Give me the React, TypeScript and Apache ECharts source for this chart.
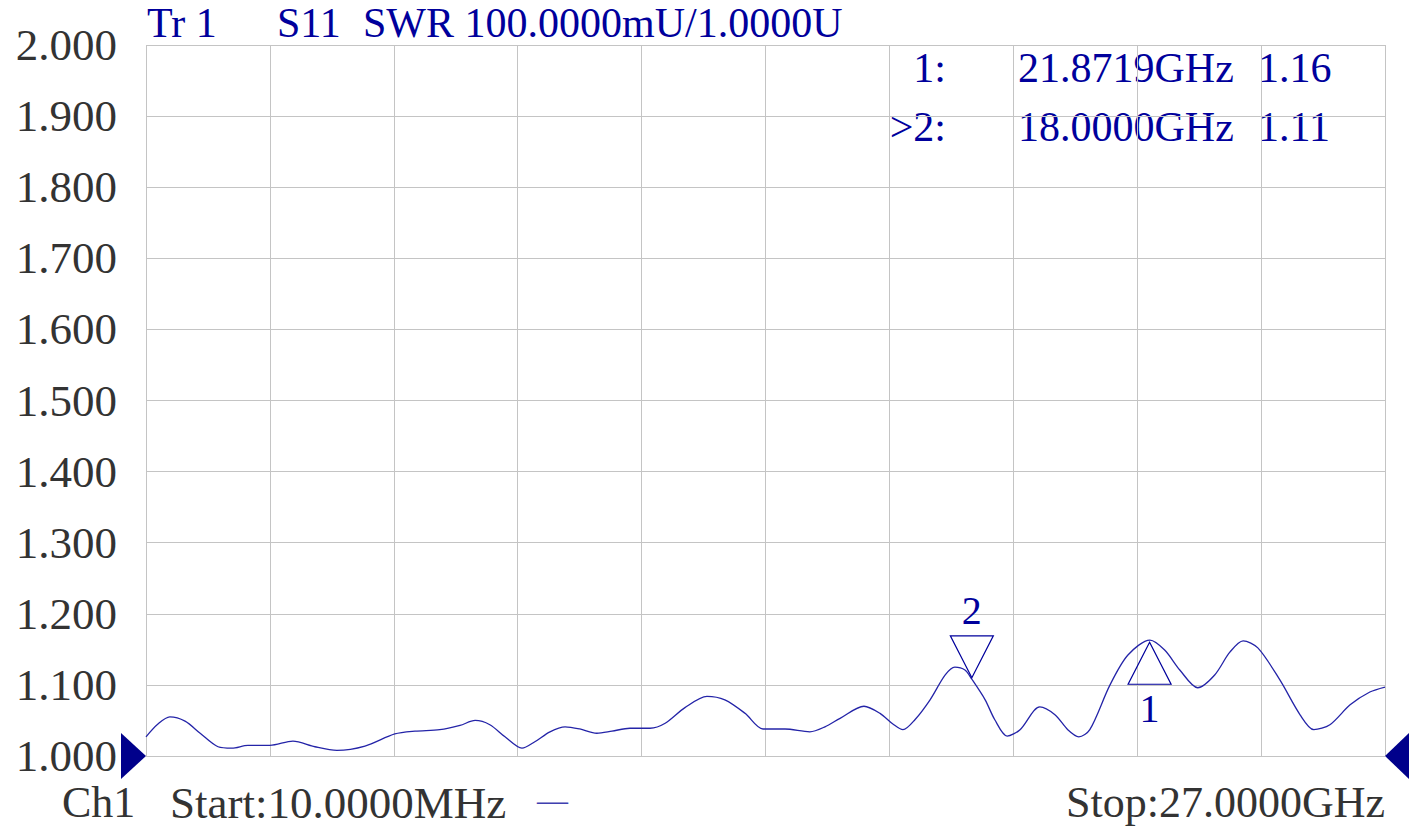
import React, { useEffect, useRef } from "react";
import * as echarts from "echarts";

// Trace S11 SWR (frequency in GHz, SWR value)
const freqGHz = [
  0.01, 0.27, 0.53, 0.86, 1.19, 1.58, 1.88, 2.23, 2.71, 3.21, 3.69, 4.17, 4.78, 5.43, 5.87, 6.41, 6.85,
  7.18, 7.5, 7.83, 8.2, 8.48, 8.81, 9.14, 9.46, 9.83, 10.16, 10.55, 10.99, 11.32, 11.75, 12.23, 12.62,
  13.06, 13.45, 13.93, 14.47, 14.8, 15.13, 15.65, 16.0, 16.28, 16.5, 16.76, 17.09, 17.42, 17.63, 17.85,
  18.0, 18.29, 18.5, 18.77, 19.05, 19.48, 19.81, 20.09, 20.33, 20.57, 21.01, 21.4, 21.88, 22.2, 22.53,
  22.92, 23.29, 23.62, 23.91, 24.23, 24.71, 25.15, 25.45, 25.8, 26.24, 26.67, 27.0,
];
const swr = [
  1.027, 1.045, 1.055, 1.049, 1.032, 1.013, 1.011, 1.015, 1.015, 1.021, 1.013, 1.008, 1.014, 1.031, 1.035,
  1.037, 1.043, 1.05, 1.044, 1.027, 1.011, 1.02, 1.034, 1.041, 1.038, 1.032, 1.035, 1.039, 1.039, 1.046,
  1.068, 1.084, 1.079, 1.06, 1.038, 1.038, 1.034, 1.041, 1.053, 1.07, 1.06, 1.045, 1.037, 1.051, 1.079,
  1.114, 1.125, 1.121, 1.108, 1.079, 1.051, 1.028, 1.037, 1.069, 1.058, 1.037, 1.027, 1.037, 1.1, 1.142,
  1.163, 1.149, 1.121, 1.096, 1.114, 1.146, 1.162, 1.152, 1.107, 1.058, 1.037, 1.044, 1.072, 1.09, 1.097,
];

const startGHz = 0.01;
const stopGHz = 27.0;
const yMin = 1.0;
const yMax = 2.0;
const yStep = 0.1;
const xDivisions = 10;

const titleParts = ["Tr 1", "S11", "SWR 100.0000mU/1.0000U"];
const markerNames = ["1", "2"];
const markerFreq = [21.8719, 18.0];
const markerSwr = [1.16, 1.11];
const activeMarker = 1;
const channelLabel = "Ch1";
const startLabel = "Start:10.0000MHz";
const stopLabel = "Stop:27.0000GHz";

const BLUE = "#00009c";
const TRACE = "#2424a8";
const GRAY_TEXT = "#333333";
const GRID = "#c4c4c4";
const FONT = "'Liberation Serif', 'DejaVu Serif', serif";

export default function App() {
  const ref = useRef<HTMLDivElement>(null);
  useEffect(() => {
    const chart = echarts.init(ref.current!, null, { renderer: "svg" });
    const data = freqGHz.map((f, i) => [f, swr[i]]);

    const titleX = [147, 277, 363];
    const graphics: any[] = titleParts.map((t, i) => ({
      type: "text",
      left: titleX[i],
      top: 2,
      style: { text: t, fill: BLUE, font: `42px ${FONT}` },
    }));
    const rowY = [47, 106];
    markerNames.forEach((n, i) => {
      const prefix = i === activeMarker ? ">" : "";
      graphics.push({
        type: "text",
        right: 1419 - 946,
        top: rowY[i],
        style: { text: `${prefix}${n}:`, fill: BLUE, font: `42px ${FONT}` },
      });
      graphics.push({
        type: "text",
        left: 1018,
        top: rowY[i],
        style: { text: `${markerFreq[i].toFixed(4)}GHz`, fill: BLUE, font: `42px ${FONT}` },
      });
      graphics.push({
        type: "text",
        left: 1258,
        top: rowY[i],
        style: { text: markerSwr[i].toFixed(2), fill: BLUE, font: `42px ${FONT}` },
      });
    });
    graphics.push({
      type: "text",
      left: 62,
      top: 780,
      style: { text: channelLabel, fill: GRAY_TEXT, font: `44px ${FONT}` },
    });
    graphics.push({
      type: "text",
      left: 170,
      top: 780,
      style: { text: startLabel, fill: GRAY_TEXT, font: `45px ${FONT}` },
    });
    graphics.push({
      type: "text",
      left: 537,
      top: 785,
      style: { text: "\u2014", fill: "#4040b0", font: `31px ${FONT}` },
    });
    graphics.push({
      type: "text",
      right: 34,
      top: 780,
      style: { text: stopLabel, fill: GRAY_TEXT, font: `44px ${FONT}` },
    });

    const markData: any[] = markerNames.map((n, i) => {
      const up = i === 0;
      return {
        coord: [markerFreq[i], markerSwr[i]],
        symbol: up ? "path://M21.5,0 L43,43 L0,43 Z" : "path://M0,0 L43,0 L21.5,42 Z",
        symbolSize: [43, 42],
        symbolOffset: [0, up ? "50%" : "-50%"],
        itemStyle: { color: "rgba(0,0,0,0)", borderColor: BLUE, borderWidth: 1.2 },
        label: {
          show: true,
          formatter: n,
          position: up ? "bottom" : "top",
          distance: up ? 4 : 5,
          color: BLUE,
          fontFamily: FONT,
          fontSize: 40,
        },
      };
    });
    markData.push({
      coord: [startGHz, yMin],
      symbol: "path://M0,0 L25,23 L0,46 Z",
      symbolSize: [25, 46],
      symbolOffset: ["-50%", 0],
      itemStyle: { color: "#00008b", borderWidth: 0 },
      label: { show: false },
    });
    markData.push({
      coord: [stopGHz, yMin],
      symbol: "path://M25,0 L0,23 L25,46 Z",
      symbolSize: [24, 46],
      symbolOffset: ["50%", 0],
      itemStyle: { color: "#00008b", borderWidth: 0 },
      label: { show: false },
    });

    chart.setOption({
      animation: false,
      backgroundColor: "#ffffff",
      grid: { left: 146, right: 34, top: 45, bottom: 70, containLabel: false },
      xAxis: [
        {
          type: "value",
          min: startGHz,
          max: stopGHz,
          show: false,
        },
        {
          type: "value",
          min: 0,
          max: xDivisions,
          interval: 1,
          axisLine: { show: false },
          axisTick: { show: false },
          axisLabel: { show: false },
          splitLine: { show: true, lineStyle: { color: GRID, width: 1 } },
        },
      ],
      yAxis: {
        type: "value",
        min: yMin,
        max: yMax,
        interval: yStep,
        axisLine: { show: false },
        axisTick: { show: false },
        splitLine: { show: true, lineStyle: { color: GRID, width: 1 } },
        axisLabel: {
          formatter: (v: number) => v.toFixed(3),
          color: GRAY_TEXT,
          fontFamily: FONT,
          fontSize: 45,
          margin: 29,
        },
      },
      graphic: graphics,
      series: [
        {
          type: "line",
          xAxisIndex: 0,
          data,
          smooth: 0.3,
          showSymbol: false,
          lineStyle: { color: TRACE, width: 1.3 },
          markPoint: { data: markData, silent: true },
        },
      ],
    });
    return () => chart.dispose();
  }, []);
  return (
    <div
      ref={ref}
      style={{ position: "absolute", left: 0, top: 0, width: 1419, height: 826 }}
    />
  );
}
